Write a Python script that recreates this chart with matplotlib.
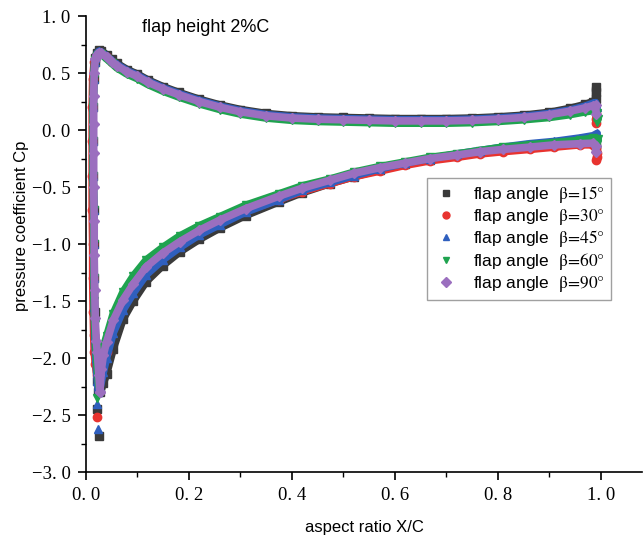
import numpy as np
import matplotlib
matplotlib.use("Agg")
import matplotlib.pyplot as plt
from matplotlib.lines import Line2D
from matplotlib.ticker import MultipleLocator, FuncFormatter

plt.rcParams['font.family'] = ['Liberation Sans', 'DejaVu Sans']
plt.rcParams['mathtext.fontset'] = 'stix'

# ---------------- data ----------------
labels = ["15", "30", "45", "60", "90"]
colors = ["#3a3a3a", "#e8332f", "#2f5fbe", "#1fa34f", "#9b6fbf"]
markers = ["s", "o", "^", "v", "D"]
msizes = [5.5, 6, 6, 6, 5]

# upper surface
xu = [0.018, 0.021, 0.025, 0.030, 0.040, 0.050, 0.060, 0.080, 0.100, 0.120, 0.150,
      0.180, 0.220, 0.260, 0.300, 0.350, 0.400, 0.450, 0.500, 0.550, 0.600, 0.650,
      0.700, 0.750, 0.800, 0.850, 0.900, 0.940, 0.970, 0.985]
cpu_15 = [0.63, 0.68, 0.70, 0.695, 0.66, 0.62, 0.585, 0.53, 0.49, 0.44, 0.38,
          0.33, 0.27, 0.22, 0.18, 0.145, 0.125, 0.115, 0.11, 0.105, 0.10, 0.10,
          0.10, 0.105, 0.115, 0.13, 0.155, 0.19, 0.225, 0.25]
cpu_30 = [0.62, 0.66, 0.68, 0.675, 0.64, 0.60, 0.565, 0.51, 0.47, 0.42, 0.36,
          0.31, 0.25, 0.20, 0.16, 0.125, 0.105, 0.095, 0.09, 0.085, 0.08, 0.08,
          0.08, 0.085, 0.095, 0.11, 0.135, 0.165, 0.19, 0.20]
cpu_45 = [0.63, 0.67, 0.69, 0.685, 0.65, 0.61, 0.575, 0.52, 0.48, 0.43, 0.37,
          0.32, 0.26, 0.21, 0.17, 0.135, 0.115, 0.105, 0.10, 0.095, 0.09, 0.09,
          0.09, 0.095, 0.105, 0.12, 0.145, 0.175, 0.21, 0.235]
cpu_60 = [0.61, 0.65, 0.67, 0.665, 0.625, 0.585, 0.545, 0.49, 0.45, 0.40, 0.34,
          0.29, 0.23, 0.18, 0.14, 0.105, 0.085, 0.075, 0.07, 0.065, 0.06, 0.06,
          0.06, 0.065, 0.075, 0.09, 0.11, 0.135, 0.16, 0.17]
cpu_90 = [0.62, 0.66, 0.68, 0.675, 0.64, 0.60, 0.565, 0.51, 0.47, 0.42, 0.36,
          0.31, 0.25, 0.20, 0.16, 0.125, 0.105, 0.095, 0.09, 0.085, 0.08, 0.08,
          0.08, 0.085, 0.095, 0.11, 0.135, 0.165, 0.195, 0.215]

# upper trailing-edge tails
xut_15 = [0.990, 0.990, 0.990]
cput_15 = [0.27, 0.33, 0.38]
xut_30 = [0.990, 0.991, 0.991]
cput_30 = [0.15, 0.10, 0.06]
xut_45 = [0.990, 0.992]
cput_45 = [0.24, 0.20]
xut_60 = [0.992, 0.994, 0.993]
cput_60 = [0.15, 0.10, 0.07]
xut_90 = [0.990, 0.991]
cput_90 = [0.22, 0.14]

# lower surface, leading-edge column (from stagnation downwards)
xle_15 = [0.017, 0.015, 0.014, 0.014, 0.014, 0.015, 0.015, 0.016, 0.017, 0.019,
          0.021, 0.022, 0.024, 0.028, 0.034]
cple_15 = [0.60, 0.45, 0.20, -0.10, -0.40, -0.70, -1.00, -1.30, -1.60, -1.90,
           -2.10, -2.20, -2.30, -2.30, -2.22]
xle_30 = [0.016, 0.013, 0.012, 0.012, 0.012, 0.012, 0.013, 0.013, 0.014, 0.015,
          0.016, 0.018, 0.021, 0.026, 0.034]
cple_30 = [0.60, 0.45, 0.20, -0.10, -0.40, -0.70, -1.00, -1.30, -1.60, -1.80,
           -1.95, -2.05, -2.15, -2.10, -2.02]
xle_45 = [0.017, 0.015, 0.014, 0.014, 0.014, 0.015, 0.015, 0.016, 0.016, 0.017,
          0.019, 0.022, 0.024, 0.028, 0.034]
cple_45 = [0.60, 0.45, 0.20, -0.10, -0.40, -0.70, -1.00, -1.30, -1.55, -1.80,
           -2.00, -2.20, -2.30, -2.25, -2.12]
xle_60 = [0.017, 0.015, 0.014, 0.014, 0.014, 0.015, 0.015, 0.016, 0.016, 0.017,
          0.019, 0.022, 0.025, 0.028, 0.034]
cple_60 = [0.60, 0.45, 0.20, -0.10, -0.40, -0.70, -1.00, -1.30, -1.50, -1.70,
           -1.90, -2.10, -2.25, -2.05, -1.90]
xle_90 = [0.018, 0.016, 0.015, 0.015, 0.015, 0.015, 0.016, 0.016, 0.017, 0.018,
          0.020, 0.022, 0.025, 0.027, 0.030, 0.034]
cple_90 = [0.62, 0.50, 0.30, 0.05, -0.20, -0.50, -0.80, -1.10, -1.40, -1.65,
           -1.85, -1.95, -2.15, -2.30, -2.10, -1.97]

# isolated leading-edge outliers
xo_15 = [0.022, 0.026]
cpo_15 = [-2.45, -2.68]
xo_30 = [0.022]
cpo_30 = [-2.52]
xo_45 = [0.021, 0.024]
cpo_45 = [-2.40, -2.62]
xo_60 = [0.022]
cpo_60 = [-2.35]
xo_90 = [0.027]
cpo_90 = [-2.30]

# lower surface, main recovery curve
xl = [0.040, 0.053, 0.072, 0.092, 0.117, 0.149, 0.182, 0.220, 0.260, 0.310, 0.375,
      0.420, 0.474, 0.520, 0.571, 0.620, 0.668, 0.720, 0.765, 0.810, 0.862, 0.910,
      0.959, 0.985]
cpl_15 = [-2.14, -1.92, -1.66, -1.50, -1.33, -1.19, -1.07, -0.96, -0.86, -0.75, -0.63,
          -0.55, -0.47, -0.41, -0.35, -0.30, -0.26, -0.22, -0.19, -0.16, -0.14, -0.12,
          -0.10, -0.09]
cpl_30 = [-1.95, -1.73, -1.53, -1.39, -1.23, -1.11, -1.00, -0.90, -0.81, -0.71, -0.61,
          -0.54, -0.47, -0.41, -0.36, -0.31, -0.27, -0.24, -0.21, -0.19, -0.17, -0.15,
          -0.13, -0.13]
cpl_45 = [-2.00, -1.78, -1.58, -1.43, -1.27, -1.14, -1.03, -0.92, -0.83, -0.72, -0.61,
          -0.53, -0.46, -0.40, -0.34, -0.29, -0.25, -0.21, -0.18, -0.15, -0.12, -0.10,
          -0.07, -0.05]
cpl_60 = [-1.81, -1.61, -1.42, -1.28, -1.14, -1.03, -0.93, -0.84, -0.76, -0.66, -0.56,
          -0.49, -0.43, -0.37, -0.32, -0.28, -0.24, -0.21, -0.18, -0.15, -0.13, -0.11,
          -0.09, -0.07]
cpl_90 = [-1.86, -1.67, -1.49, -1.35, -1.20, -1.08, -0.98, -0.88, -0.79, -0.69, -0.58,
          -0.51, -0.44, -0.38, -0.33, -0.29, -0.25, -0.22, -0.19, -0.17, -0.15, -0.13,
          -0.12, -0.115]

# lower trailing-edge tails
xlt_15 = [0.990, 0.990]
cplt_15 = [-0.12, -0.16]
xlt_30 = [0.990, 0.992, 0.992, 0.991]
cplt_30 = [-0.16, -0.20, -0.24, -0.26]
xlt_45 = [0.993, 0.991]
cplt_45 = [-0.03, -0.08]
xlt_60 = [0.995, 0.992]
cplt_60 = [-0.08, -0.12]
xlt_90 = [0.990, 0.990]
cplt_90 = [-0.14, -0.19]

series = [
    (xu, cpu_15, xut_15, cput_15, xle_15, cple_15, xl, cpl_15, xlt_15, cplt_15, xo_15, cpo_15),
    (xu, cpu_30, xut_30, cput_30, xle_30, cple_30, xl, cpl_30, xlt_30, cplt_30, xo_30, cpo_30),
    (xu, cpu_45, xut_45, cput_45, xle_45, cple_45, xl, cpl_45, xlt_45, cplt_45, xo_45, cpo_45),
    (xu, cpu_60, xut_60, cput_60, xle_60, cple_60, xl, cpl_60, xlt_60, cplt_60, xo_60, cpo_60),
    (xu, cpu_90, xut_90, cput_90, xle_90, cple_90, xl, cpl_90, xlt_90, cplt_90, xo_90, cpo_90),
]

# ---------------- figure ----------------
fig = plt.figure(figsize=(6.44, 5.36), dpi=100)
ax = fig.add_axes([0.1335, 0.1194, 0.8634, 0.8507])

for i, s in enumerate(series):
    (xu_, cu, xut, cut, xle, cle, xl_, cl, xlt, clt, xo, co) = s
    c = colors[i]
    m = markers[i]
    ms = msizes[i]
    z = 2 + i
    up_x = list(xu_) + list(xut)
    up_y = list(cu) + list(cut)
    lo_x = list(xle) + list(xl_) + list(xlt)
    lo_y = list(cle) + list(cl) + list(clt)
    for px, py in ((up_x, up_y), (lo_x, lo_y)):
        ax.plot(px, py, color=c, lw=5.5, solid_capstyle='butt', zorder=z)
        ax.plot(px, py, linestyle='None', marker=m, ms=ms, color=c, mec=c, zorder=z)
    ax.plot(xo, co, linestyle='None', marker=m, ms=ms, color=c, mec=c, zorder=z)

ax.set_xlim(0, 1.08)
ax.set_ylim(-3.0, 1.0)
ax.spines['top'].set_visible(False)
ax.spines['right'].set_visible(False)
for sp in ('left', 'bottom'):
    ax.spines[sp].set_linewidth(1.2)

ax.xaxis.set_major_locator(MultipleLocator(0.2))
ax.xaxis.set_minor_locator(MultipleLocator(0.1))
ax.yaxis.set_major_locator(MultipleLocator(0.5))
ax.yaxis.set_minor_locator(MultipleLocator(0.25))
ax.tick_params(which='major', direction='out', length=6, width=1.2, pad=5)
ax.tick_params(which='minor', direction='out', length=3.5, width=1.0)


def fmt(v, pos):
    s = f"{abs(v):.1f}".replace('.', '. ')
    return ('\u2212' if v < -1e-9 else '') + s


ax.xaxis.set_major_formatter(FuncFormatter(fmt))
ax.yaxis.set_major_formatter(FuncFormatter(fmt))
for lab in ax.get_xticklabels() + ax.get_yticklabels():
    lab.set_fontfamily('Liberation Serif')
    lab.set_fontsize(13.5)

ax.set_xlabel("aspect ratio X/C", fontsize=12)
ax.set_ylabel("pressure coefficient Cp", fontsize=12)
ax.xaxis.set_label_coords(0.5, -0.105)
ax.yaxis.set_label_coords(-0.102, 0.539)

ax.text(0.216, 0.974, "flap height 2%C", transform=ax.transAxes,
        ha='center', va='center', fontsize=13)

handles = [Line2D([], [], linestyle='None', marker=markers[i], color=colors[i],
                  mec=colors[i], ms=5) for i in range(5)]
leg_labels = [f"flap angle  $\\mathrm{{\\beta\\!=\\!{l}°}}$" for l in labels]
leg = ax.legend(handles, leg_labels, loc='upper left', bbox_to_anchor=(0.613, 0.645),
                fontsize=12.5, frameon=True, fancybox=False, edgecolor='#888888',
                labelspacing=0.1, handletextpad=0.8, borderpad=0.35, handlelength=1.5,
                borderaxespad=0)
leg.get_frame().set_linewidth(1.0)

fig.savefig("out.png", dpi=100)
